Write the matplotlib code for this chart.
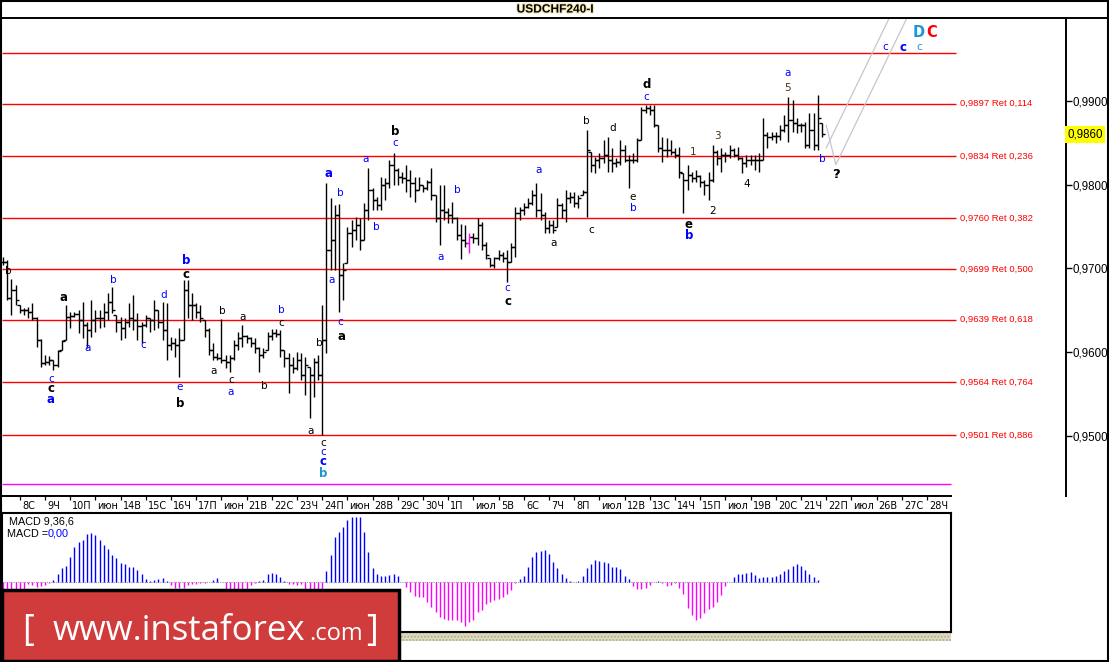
import numpy as np
import matplotlib.pyplot as plt
from matplotlib.collections import LineCollection
from matplotlib.patches import Rectangle
import matplotlib.patheffects as pe

# USDCHF 4h bars, prices in pips (1 pip = 0.0001)
high_pips = [9714, 9710, 9687, 9680, 9656, 9653, 9654, 9659, 9642, 9616, 9597, 9596, 9591, 9603, 9615, 9656, 9648, 9648,
             9650, 9660, 9636, 9662, 9650, 9650, 9659, 9671, 9678, 9644, 9642, 9641, 9659, 9668, 9647, 9636, 9644, 9641,
             9662, 9650, 9660, 9659, 9618, 9617, 9629, 9686, 9686, 9671, 9659, 9656, 9639,
             9629, 9611, 9599, 9640, 9597, 9597, 9615, 9624, 9633, 9621, 9618, 9617, 9606, 9605, 9624, 9628, 9628, 9627,
             9603, 9599, 9594, 9600, 9599, 9594, 9582, 9593, 9597, 9656,
             9802, 9784, 9776, 9777, 9707, 9750, 9758, 9761, 9760, 9778, 9820, 9796,
             9785, 9809, 9808, 9830, 9838, 9820, 9815, 9824, 9818, 9809, 9809, 9800, 9806, 9820, 9788, 9800, 9800, 9772,
             9779, 9761, 9753, 9752, 9742, 9742, 9760, 9755, 9732, 9712, 9714, 9722, 9720, 9722, 9730, 9773, 9773, 9778,
             9784, 9794, 9802, 9790, 9767, 9758, 9758, 9784, 9778, 9794, 9791, 9791, 9788, 9794,
             9865, 9839, 9833, 9838, 9853, 9857, 9844, 9832, 9853, 9847, 9835, 9838, 9856, 9893, 9895, 9895, 9895, 9871,
             9857, 9856, 9853, 9844, 9845, 9814, 9824, 9815, 9818, 9812, 9806, 9815,
             9847, 9841, 9844, 9839, 9847, 9844, 9845, 9833, 9835, 9835, 9835, 9838, 9880, 9863, 9863, 9863, 9871, 9883,
             9905, 9901, 9880, 9874, 9875, 9886, 9886, 9907, 9874]
low_pips = [9704, 9662, 9644, 9656, 9647, 9644, 9641, 9638, 9606, 9582, 9585, 9585, 9579, 9582, 9603, 9615, 9629, 9642,
            9623, 9617, 9605, 9618, 9624, 9629, 9630, 9639, 9647, 9624, 9615, 9617, 9630, 9627, 9615, 9611, 9630, 9624,
            9627, 9629, 9615, 9591, 9603, 9594, 9570, 9615, 9641, 9639, 9641, 9636, 9618,
            9597, 9591, 9591, 9587, 9581, 9576, 9591, 9603, 9606, 9611, 9606, 9599, 9576, 9593, 9603, 9615, 9618, 9594,
            9582, 9551, 9575, 9579, 9567, 9549, 9521, 9547, 9567, 9501,
            9599, 9698, 9698, 9648, 9662, 9707, 9726, 9734, 9722, 9734, 9758, 9770,
            9770, 9770, 9782, 9796, 9800, 9800, 9802, 9791, 9785, 9779, 9794, 9791, 9794, 9782, 9756, 9728, 9758, 9754,
            9754, 9734, 9711, 9726, 9718, 9730, 9728, 9722, 9711, 9702, 9701, 9710, 9708, 9684, 9708, 9714, 9758, 9764,
            9772, 9776, 9761, 9758, 9742, 9742, 9742, 9750, 9760, 9755, 9778, 9773, 9772, 9788,
            9761, 9815, 9814, 9820, 9826, 9815, 9815, 9821, 9824, 9827, 9796, 9826, 9827, 9853, 9886, 9883, 9869, 9839,
            9827, 9833, 9835, 9832, 9808, 9766, 9794, 9803, 9803, 9797, 9788, 9782,
            9803, 9824, 9815, 9827, 9832, 9833, 9830, 9814, 9821, 9824, 9818, 9815, 9830, 9844, 9853, 9850, 9853, 9863,
            9851, 9863, 9862, 9863, 9844, 9844, 9841, 9841, 9857]
close_pips = [9708, 9665, 9674, 9662, 9650, 9650, 9648, 9641, 9615, 9587, 9588, 9591, 9585, 9601, 9613, 9642, 9643, 9646,
              9639, 9633, 9627, 9639, 9641, 9641, 9648, 9660, 9650, 9636, 9629, 9636, 9641, 9639, 9631, 9633, 9641, 9639,
              9650, 9636, 9627, 9609, 9611, 9609, 9615, 9674, 9656, 9656, 9648, 9641, 9627,
              9603, 9594, 9593, 9591, 9588, 9593, 9609, 9617, 9619, 9617, 9611, 9605, 9597, 9600, 9619, 9623, 9622, 9603,
              9593, 9585, 9581, 9591, 9573, 9585, 9573, 9588, 9573, 9615,
              9722, 9734, 9764, 9692, 9698, 9742, 9746, 9752, 9734, 9770, 9794, 9782,
              9776, 9800, 9802, 9824, 9818, 9809, 9808, 9806, 9802, 9794, 9800, 9796, 9803, 9788, 9760, 9770, 9767, 9764,
              9760, 9740, 9734, 9730, 9738, 9736, 9752, 9728, 9716, 9704, 9712, 9716, 9712, 9708, 9726, 9766, 9770, 9773,
              9778, 9788, 9770, 9764, 9748, 9752, 9746, 9776, 9770, 9784, 9785, 9778, 9784, 9791,
              9841, 9824, 9830, 9832, 9835, 9830, 9826, 9827, 9841, 9830, 9830, 9830, 9853, 9889, 9892, 9889, 9871, 9844,
              9841, 9841, 9839, 9835, 9815, 9806, 9812, 9808, 9810, 9803, 9800, 9806,
              9839, 9832, 9835, 9835, 9841, 9835, 9832, 9826, 9830, 9830, 9830, 9830, 9859, 9857, 9858, 9858, 9865, 9871,
              9877, 9874, 9871, 9871, 9847, 9865, 9847, 9880, 9860]
marked_bar = 111  # the one bar drawn in magenta

# MACD(9,36,6) histogram, one value per bar (arbitrary units)
macd_hist = [-8, -8, -8, -8, -8, -8, -2, -3, -5, -4, -3, -1, 2, 8, 14, 16, 25, 35, 40, 42, 48, 49, 47, 42, 37, 33,
             27, 24, 19, 18, 15, 15, 12, 8, 3, 1, 2, 3, 4, 1, -3, -6, -6, -6, -3, -2, -2, -1, -1, 0, 2, 4, 0.5,
             -8, -8, -8, -8, -8, -8, -3, -1, 1, 2, 8, 9, 8, 5, 1, -2, -2, -3, -2, -8, -8, -8, -8, -8,
             11, 27, 45, 50, 55, 62, 65, 65, 65, 50, 30, 14, 8, 6, 6, 7, 8, 6, 0.5,
             -5, -10, -14, -15, -15, -20, -25, -30, -35, -37, -38, -38, -38, -40, -44, -40, -38, -30, -28, -22, -20,
             -18, -17, -15, -12, -8, -1, 3, 6, 15, 25, 30, 31, 32, 28, 20, 14, 8, 4, 1, 0, 1, 6, 14, 18, 22, 21, 20,
             19, 15, 15, 13, 6, 3, -4, -7, -7, -6, -3, 0, 1, -1, -4, -3, -1, -6, -12, -26, -33, -38, -36, -31, -27,
             -25, -20, -13, -4, 0, 5, 8, 8, 9, 10, 7, 4, 5, 5, 5, 6, 8, 11, 13, 16, 18, 16, 12, 8, 5, 2]

fib_levels = [0.9957, 0.9897, 0.9834, 0.9760, 0.9699, 0.9639, 0.9564, 0.9501]
fib_ratios = [None, 0.114, 0.236, 0.382, 0.500, 0.618, 0.764, 0.886]
fib_end = 0.9443

day_labels = ['8С', '9Ч', '10П', 'июн', '14В', '15С', '16Ч', '17П', 'июн', '21В', '22С', '23Ч', '24П', 'июн',
              '28В', '29С', '30Ч', '1П', 'июл', '5В', '6С', '7Ч', '8П', 'июл', '12В', '13С', '14Ч', '15П', 'июл',
              '19В', '20С', '21Ч', '22П', 'июл', '26В', '27С', '28Ч']
price_ticks = [0.95, 0.96, 0.97, 0.98, 0.99]
last_price = 0.9860

BLUE, TEAL, RED, BROWN = '#0000ff', '#1e96d2', '#ff0000', '#4a3410'
# wave marks: (bar position, price, text, colour, bold)
wave_labels = [
    (1.2, 0.9697, 'b', 'k', False), (14.5, 0.9665, 'a', 'k', True),
    (11.4, 0.9568, 'c', BLUE, False), (11.4, 0.9557, 'c', 'k', True), (11.4, 0.9544, 'a', BLUE, True),
    (20.2, 0.9605, 'a', BLUE, False), (26.2, 0.9686, 'b', BLUE, False), (33.3, 0.9609, 'c', BLUE, False),
    (38.3, 0.9668, 'd', BLUE, False), (42.1, 0.9559, 'e', BLUE, False), (42.1, 0.9539, 'b', 'k', True),
    (43.6, 0.9709, 'b', BLUE, True), (43.6, 0.9693, 'c', 'k', True),
    (50.2, 0.9578, 'a', 'k', False), (52.1, 0.9649, 'b', 'k', False), (54.3, 0.9567, 'c', 'k', False),
    (54.3, 0.9553, 'a', BLUE, False), (57.1, 0.9642, 'a', 'k', False), (62.1, 0.9560, 'b', 'k', False),
    (66.2, 0.9650, 'b', BLUE, False), (66.2, 0.9635, 'c', 'k', False), (73.3, 0.9506, 'a', 'k', False),
    (75.2, 0.9611, 'b', 'k', False),
    (76.2, 0.9492, 'c', 'k', False), (76.2, 0.9481, 'c', BLUE, False), (76.2, 0.9469, 'c', BLUE, True),
    (76.2, 0.9455, 'b', TEAL, True),
    (77.4, 0.9814, 'a', BLUE, True), (80.2, 0.9790, 'b', BLUE, False), (78.3, 0.9686, 'a', BLUE, False),
    (80.2, 0.9636, 'c', BLUE, False), (80.5, 0.9619, 'a', 'k', True),
    (86.4, 0.9831, 'a', BLUE, False), (89.0, 0.9750, 'b', BLUE, False),
    (93.3, 0.9864, 'b', 'k', True), (93.3, 0.9850, 'c', BLUE, False),
    (104.3, 0.9714, 'a', BLUE, False), (108.1, 0.9794, 'b', BLUE, False),
    (120.0, 0.9677, 'c', BLUE, False), (120.2, 0.9660, 'c', 'k', True),
    (127.4, 0.9818, 'a', BLUE, False), (131.2, 0.9730, 'a', 'k', False),
    (139.0, 0.9876, 'b', 'k', False), (140.0, 0.9746, 'c', 'k', False), (145.2, 0.9868, 'd', 'k', False),
    (150.0, 0.9785, 'e', 'k', False), (150.0, 0.9772, 'b', BLUE, False),
    (153.1, 0.9905, 'c', BLUE, False), (153.3, 0.9920, 'd', 'k', True),
    (164.3, 0.9839, '1', BROWN, False), (163.3, 0.9753, 'e', 'k', True), (163.3, 0.9739, 'b', BLUE, True),
    (170.0, 0.9858, '3', BROWN, False), (169.0, 0.9769, '2', 'k', False), (177.1, 0.9801, '4', 'k', False),
    (186.9, 0.9933, 'a', BLUE, False), (186.9, 0.9916, '5', BROWN, False),
    (195.0, 0.9831, 'b', BLUE, False), (198.3, 0.9812, '?', 'k', True),
    (210.0, 0.9964, 'c', BLUE, False), (214.3, 0.9964, 'c', BLUE, True), (218.1, 0.9964, 'c', TEAL, False),
    (218.1, 0.9982, 'D', TEAL, True), (221.0, 0.9982, 'C', RED, True),
]
# projected path drawn in light grey
path_a = ([196.0, 198.3, 215.2], [0.9871, 0.9824, 0.9999])
path_b = ([196.0, 211.0], [0.9844, 0.9999])

# ---- layout (pixels) ----
W, H = 1109, 662
STEP, X0 = 4.2, 3.0          # px per bar, px of first bar


def box(x0, y0, x1, y1):
    return [x0 / W, 1 - y1 / H, (x1 - x0) / W, (y1 - y0) / H]


def bars_at(px):
    return (px - X0) / STEP


def price_at(py):
    return 0.95 + (436 - py) * 0.0001194


fig = plt.figure(figsize=(W / 100, H / 100), dpi=100)
fig.patch.set_facecolor('white')

# main price panel
ax = fig.add_axes(box(2, 18, 1066, 496))
ax.set_xlim(bars_at(2), bars_at(1066))
ax.set_ylim(price_at(496), price_at(18))
for s in ['left', 'top', 'bottom']:
    ax.spines[s].set_visible(False)
ax.spines['right'].set_linewidth(1.4)
ax.set_xticks([])
ax.yaxis.tick_right()
ax.set_yticks(price_ticks)
ax.set_yticklabels([f'{p:.4f}'.replace('.', ',') for p in price_ticks], family='Liberation Sans', fontsize=8.3)
ax.tick_params(axis='y', length=4, width=1, pad=1)

hi = np.array(high_pips) / 1e4
lo = np.array(low_pips) / 1e4
cl = np.clip(np.array(close_pips) / 1e4, lo, hi)
op = np.concatenate([[cl[0]], cl[:-1]])
op = np.clip(op, lo, hi)
idx = np.arange(len(hi))
segs, cols = [], []
for i in idx:
    c = '#ff00ff' if i == marked_bar else 'black'
    segs += [[(i, lo[i]), (i, hi[i])], [(i - 0.7, op[i]), (i, op[i])], [(i, cl[i]), (i + 0.7, cl[i])]]
    cols += [c] * 3
ax.add_collection(LineCollection(segs, colors=cols, linewidths=1.0, zorder=3))

xr_end = bars_at(956)
ax.hlines(fib_levels, bars_at(2), xr_end, colors='#ff0000', linewidth=1.0, zorder=2)
ax.hlines(fib_end, bars_at(2), bars_at(951), colors='#ff00ff', linewidth=1.0, zorder=2)
for lv, r in zip(fib_levels, fib_ratios):
    if r is None:
        continue
    txt = f'{lv:.4f} Ret {r:.3f}'.replace('.', ',')
    ax.text(bars_at(960), lv, txt, color='#ff0000', fontsize=6.8, family='Liberation Sans',
            ha='left', va='center')

ax.plot(*path_a, color='#c8c4d0', linewidth=0.9, zorder=2)
ax.plot(*path_b, color='#c8c4d0', linewidth=0.9, zorder=2)

for x, y, t, c, b in wave_labels:
    fs = 10.5 if t in 'DC' else (9.5 if t == '?' else (8.5 if b else 7.5))
    ax.text(x, y, t, color=c, fontsize=fs, fontweight='bold' if b else 'normal',
            ha='center', va='center', zorder=4)

ax.text(1.0015, last_price, '0,9860', transform=ax.get_yaxis_transform(), ha='left', va='center',
        fontsize=8.3, family='Liberation Sans',
        bbox=dict(boxstyle='square,pad=0.2', fc='#ffff00', ec='none'))

# date strip
axd = fig.add_axes(box(2, 496, 951, 513))
axd.set_xlim(bars_at(2), bars_at(951))
axd.set_ylim(0, 1)
axd.axis('off')
day_start = 4 + 6 * np.arange(len(day_labels))
axd.vlines(day_start, 0.78, 1.0, colors='black', linewidth=0.9)
for d, lab in zip(day_start, day_labels):
    axd.text(d + 0.5, 0.42, lab, fontsize=7, family='DejaVu Sans', ha='left', va='center')

# MACD panel
axm = fig.add_axes(box(2, 513, 951, 632))
axm.set_xlim(bars_at(2), bars_at(951))
axm.set_ylim(-50, 69)
axm.set_xticks([])
axm.set_yticks([])
for s in axm.spines.values():
    s.set_linewidth(1.5)
mh = np.array(macd_hist, dtype=float)
mx = np.arange(len(mh))
axm.hlines(0, -0.3, mx[-1] + 0.3, colors='#999999', linewidth=0.8, linestyles=(0, (1, 1)))
axm.vlines(mx[mh > 0], 0, mh[mh > 0], colors='#0000ff', linewidth=1.0)
axm.vlines(mx[mh < 0], mh[mh < 0], 0, colors='#ff00ff', linewidth=1.0)

# overlay in pixel units for frame, title, banner
bg = fig.add_axes([0, 0, 1, 1])
bg.set_xlim(0, W)
bg.set_ylim(H, 0)
bg.axis('off')
bg.patch.set_alpha(0)
bg.plot([0, W], [18, 18], color='black', linewidth=1.4)
bg.plot([2, 951], [496, 496], color='black', linewidth=1.4)
bg.add_patch(Rectangle((0.7, 0.7), W - 1.4, H - 1.4, fill=False, ec='black', lw=1.5))
t = bg.text(555, 9.5, 'USDCHF240-I', ha='center', va='center', fontsize=8.6, fontweight='bold',
            family='Liberation Sans')
t.set_path_effects([pe.withStroke(linewidth=1.6, foreground='#f2e6b0')])

bg.add_patch(Rectangle((2, 633), 949, 8, fc='#dedcc4', ec='#b4b08a', hatch='.....', lw=0))
bg.text(9, 522, 'MACD 9,36,6', fontsize=7.8, family='Liberation Sans', ha='left', va='center')
bg.text(7, 534, 'MACD =', fontsize=7.8, family='Liberation Sans', ha='left', va='center')
bg.text(48, 534, '0,00', fontsize=7.8, family='Liberation Sans', ha='left', va='center', color='#0000ff')

bg.add_patch(Rectangle((1.5, 589.5), 397, 71, fc='#d03c3c', ec='black', lw=2.5, zorder=5))
bg.text(22, 640, '[', color='white', fontsize=26, family='Open Sans', ha='left', va='baseline', zorder=6)
bg.text(53, 640, 'www.instaforex', color='white', fontsize=25, family='Open Sans', ha='left',
        va='baseline', zorder=6)
bg.text(309, 640, '.com', color='white', fontsize=17, family='Open Sans', ha='left', va='baseline', zorder=6)
bg.text(366, 640, ']', color='white', fontsize=26, family='Open Sans', ha='left', va='baseline', zorder=6)

fig.savefig('out.png', dpi=100)
